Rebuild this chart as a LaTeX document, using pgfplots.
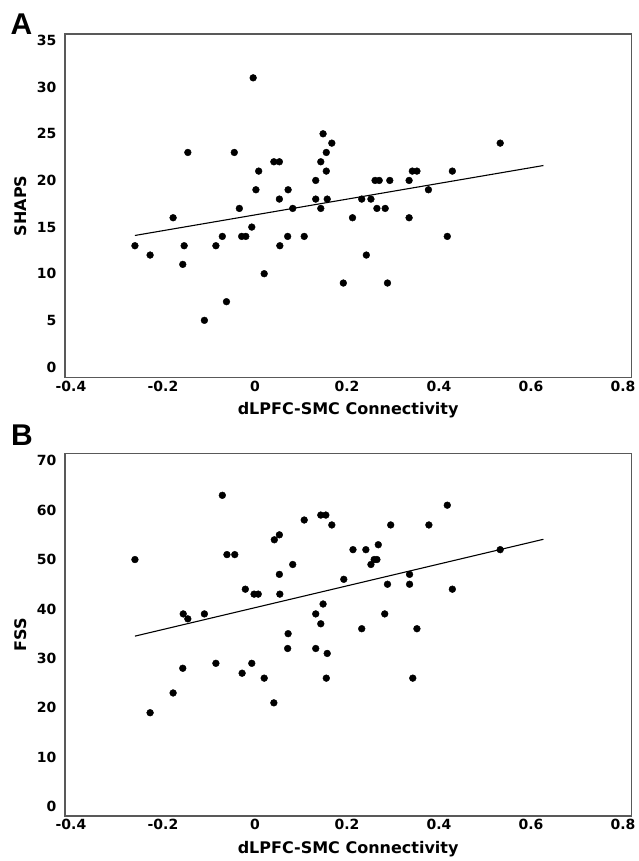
\documentclass[border=0pt]{standalone}
\usepackage{pgfplots}
\pgfplotsset{compat=1.18}
\usepackage{fontspec}
\setmainfont{DejaVu Sans}
\newfontfamily\arialfont{Liberation Sans}

\pgfplotsset{
  panel/.style={
    scale only axis, width=566.3pt,
    xmin=-0.413, xmax=0.818,
    xtick={-0.4,-0.2,0,0.2,0.4,0.6,0.8},
    major tick length=0pt,
    axis line style={black!65, line width=1.2pt},
    tick label style={font=\fontsize{14}{16}\selectfont\bfseries},
    /pgf/number format/assume math mode=true,
    xticklabel style={/pgf/number format/fixed, /pgf/number format/precision=1},
    yticklabel style={xshift=-5pt},
    label style={font=\fontsize{16}{19}\selectfont\bfseries},
    xlabel={dLPFC-SMC Connectivity},
    ylabel style={at={(axis description cs:-0.0777,0.5)}, anchor=center},
  },
  dots/.style={only marks, mark=*, mark size=3.4pt, black},
  fit/.style={black, line width=1.1pt, no marks},
}

\begin{document}
\begin{tikzpicture}
\useasboundingbox (0,0) rectangle (638pt,-861pt);

% Panel A
\begin{axis}[panel, at={(65pt,-34pt)}, anchor=north west,
  height=343.7pt, ymin=-1.15, ymax=35.7, ytick={0,5,...,35},
  ylabel={SHAPS},
  xlabel style={at={(axis description cs:0.5,-0.094)}, anchor=center}]
\addplot[dots] coordinates {
(-0.261,13) (-0.228,12) (-0.178,16) (-0.157,11) (-0.154,13) (-0.146,23)
(-0.110,5) (-0.085,13) (-0.071,14) (-0.062,7) (-0.045,23) (-0.034,17)
(-0.029,14) (-0.020,14) (-0.007,15) (-0.004,31) (0.002,19) (0.008,21)
(0.020,10) (0.041,22) (0.053,22) (0.053,18) (0.054,13) (0.071,14)
(0.072,19) (0.082,17) (0.107,14) (0.132,20) (0.132,18) (0.143,22)
(0.143,17) (0.148,25) (0.155,23) (0.155,21) (0.157,18) (0.167,24)
(0.192,9) (0.212,16) (0.232,18) (0.242,12) (0.252,18) (0.261,20)
(0.270,20) (0.265,17) (0.283,17) (0.288,9) (0.293,20) (0.335,20)
(0.335,16) (0.342,21) (0.352,21) (0.377,19) (0.418,14) (0.429,21)
(0.533,24)
};
\addplot[fit] coordinates {(-0.261,14.1) (0.627,21.6)};
\end{axis}

% Panel B
\begin{axis}[panel, at={(65pt,-453.3pt)}, anchor=north west,
  height=362.7pt, ymin=-1.9, ymax=71.5, ytick={0,10,...,70},
  ylabel={FSS},
  xlabel style={at={(axis description cs:0.5,-0.091)}, anchor=center}]
\addplot[dots] coordinates {
(-0.261,50) (-0.228,19) (-0.178,23) (-0.157,28) (-0.156,39) (-0.146,38)
(-0.110,39) (-0.085,29) (-0.071,63) (-0.061,51) (-0.044,51) (-0.028,27)
(-0.021,44) (-0.007,29) (-0.002,43) (0.007,43) (0.020,26) (0.041,21)
(0.042,54) (0.053,55) (0.053,47) (0.054,43) (0.071,32) (0.072,35)
(0.082,49) (0.107,58) (0.132,39) (0.132,32) (0.143,59) (0.154,59)
(0.143,37) (0.148,41) (0.157,31) (0.155,26) (0.167,57) (0.193,46)
(0.213,52) (0.232,36) (0.241,52) (0.252,49) (0.259,50) (0.265,50)
(0.268,53) (0.282,39) (0.288,45) (0.295,57) (0.336,47) (0.336,45)
(0.343,26) (0.352,36) (0.378,57) (0.418,61) (0.429,44) (0.533,52)
};
\addplot[fit] coordinates {(-0.261,34.5) (0.627,54.1)};
\end{axis}

\node[font=\arialfont\bfseries\fontsize{30}{30}\selectfont] at (21.5pt,-24pt) {A};
\node[font=\arialfont\bfseries\fontsize{30}{30}\selectfont] at (22pt,-435pt) {B};
\end{tikzpicture}
\end{document}
